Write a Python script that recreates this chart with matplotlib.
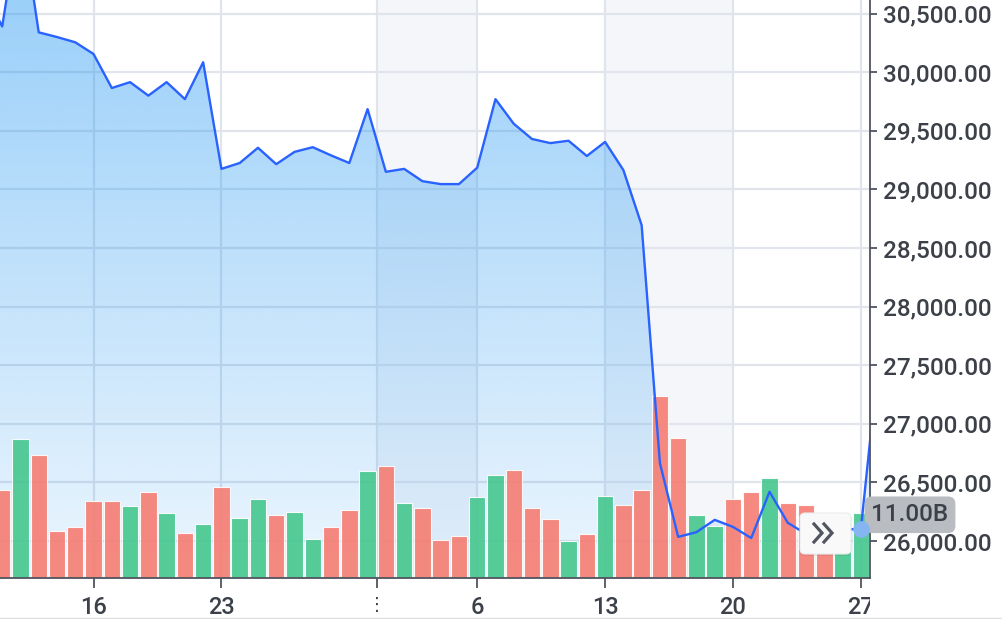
import numpy as np
import pandas as pd
import matplotlib.pyplot as plt
import matplotlib.dates as mdates
from matplotlib.patches import FancyBboxPatch, Rectangle
from matplotlib.lines import Line2D
from matplotlib.transforms import Affine2D, IdentityTransform, blended_transform_factory

plt.rcParams["font.family"] = ["Roboto", "DejaVu Sans"]
plt.rcParams["font.weight"] = "medium"

# daily closes, Jul 10 .. Aug 28 2023
price_dates = pd.date_range("2023-07-10", "2023-08-28", freq="D")
prices = [30700, 30390, 31380, 30340, 30300, 30255, 30155, 29865, 29915, 29800,
          29915, 29770, 30085, 29175, 29225, 29355, 29215, 29320, 29360, 29290,
          29225, 29685, 29150, 29175, 29070, 29045, 29045, 29185, 29770, 29560,
          29430, 29395, 29415, 29285, 29405, 29165, 28695, 26665, 26035, 26075,
          26180, 26120, 26025, 26420, 26155, 26060, 26080, 26100, 26100, 27600]

# volume in billions, Jul 11 .. Aug 27
vol_dates = pd.date_range("2023-07-11", "2023-08-27", freq="D")
volumes = [14.9, 23.5, 20.8, 8.0, 8.6, 13.0, 13.0, 12.2, 14.6, 11.0,
           7.6, 9.1, 15.4, 10.2, 13.4, 10.7, 11.2, 6.6, 8.6, 11.5,
           18.1, 19.0, 12.7, 11.8, 6.4, 7.1, 13.7, 17.4, 18.3, 11.8,
           10.0, 6.3, 7.4, 13.9, 12.4, 14.9, 30.8, 23.7, 10.7, 8.8,
           13.4, 14.6, 16.9, 12.7, 12.4, 9.8, 5.1, 11.0]
vol_side = list("rgrrrrrgrg" "rgrggrggrr" "grgrrrggrr" "rgrgrrrrgg" "rrgrrrgg")

tick_dates = ["2023-07-16", "2023-07-23", "2023-07-31 12:00", "2023-08-06",
              "2023-08-13", "2023-08-20", "2023-08-27"]
tick_labels = ["16", "23", "\u22ee", "6", "13", "20", "27"]
bands = [("2023-07-31 12:00", "2023-08-06"), ("2023-08-13", "2023-08-20")]

axis_col = "#50545e"
text_col = "#3c4048"

fig = plt.figure(figsize=(10.02, 6.19), dpi=100)
ax = fig.add_axes([0, 41 / 619, 870 / 1002, 578 / 619])

x0 = mdates.date2num(pd.Timestamp("2023-07-16")) - 5.12
x1 = mdates.date2num(pd.Timestamp("2023-07-16")) + 42.5
ymin, ymax = 25684, 30616
vol_top = 97.8

# background bands + grid
for a, b in bands:
    ax.axvspan(pd.Timestamp(a), pd.Timestamp(b), color="#f4f6fa", zorder=0.2, lw=0)
ax.set_axisbelow(True)
ax.grid(True, color="#e1e4ea", lw=1.6)

# gradient area under the price line
grad = np.zeros((256, 1, 4))
grad[:, 0, 0] = 33 / 255
grad[:, 0, 1] = 150 / 255
grad[:, 0, 2] = 243 / 255
grad[:, 0, 3] = np.linspace(0.45, 0.09, 256)
poly = ax.fill_between(price_dates, prices, ymin - 500, facecolor="none", lw=0)
im = ax.imshow(grad, extent=[0, 1, 0, 1], transform=ax.transAxes, aspect="auto",
               zorder=2, interpolation="bilinear")
im.set_clip_path(poly.get_paths()[0], transform=ax.transData)

# volume bars, scaled to their own range
vol_trans = blended_transform_factory(ax.transData,
                                      Affine2D().scale(1, 1 / vol_top) + ax.transAxes)
bar_cols = ["#45c78d" if s == "g" else "#f67d72" for s in vol_side]
ax.bar(vol_dates, volumes, width=0.9, color=bar_cols, alpha=0.9,
       edgecolor=(1, 1, 1, 0.45), lw=0.8, transform=vol_trans, zorder=3)

ax.plot(price_dates, prices, color="#2962ff", lw=1.7, zorder=5)

ax.set_xlim(x0, x1)
ax.set_ylim(ymin, ymax)

# axes styling
for s in ["top", "left"]:
    ax.spines[s].set_visible(False)
for s in ["right", "bottom"]:
    ax.spines[s].set_color(axis_col)
    ax.spines[s].set_linewidth(1.3)
    ax.spines[s].set_zorder(6)

ax.yaxis.tick_right()
ax.set_yticks(np.arange(26000, 30501, 500))
ax.yaxis.set_major_formatter(plt.FuncFormatter(lambda v, p: f"{v:,.2f}"))
ax.tick_params(axis="y", length=5, width=1.3, pad=4, labelsize=17.5,
               color=axis_col, labelcolor=text_col)

ax.set_xticks([pd.Timestamp(t) for t in tick_dates])
ax.set_xticklabels(tick_labels)
ax.tick_params(axis="x", length=7, width=1.3, pad=6, labelsize=17,
               color=axis_col, labelcolor=text_col)
clip_rect = Rectangle((0, 0), 870 / 1002, 1, transform=fig.transFigure)
for lbl in ax.get_xticklabels():
    lbl.set_clip_path(clip_rect)
    if lbl.get_text() == "\u22ee":
        lbl.set_fontsize(13)

# last value marker and label
ax.plot(price_dates[-2], prices[-2], "o", ms=11, color="#86b6f2",
        zorder=11, clip_on=False)
lab_trans = blended_transform_factory(ax.transAxes,
                                      Affine2D().scale(1, 1 / vol_top) + ax.transAxes)
ax.text(1.046, volumes[-1] - 0.3, f"{volumes[-1]:.2f}B", transform=lab_trans,
        ha="center", va="center", fontsize=17.5, color=text_col, zorder=10,
        bbox=dict(boxstyle="round,pad=0.28,rounding_size=0.3", fc="#b9bcc1", ec="none"))

# scroll button
shadow = FancyBboxPatch((799, 63), 53, 43, boxstyle="round,pad=0,rounding_size=6",
                        transform=IdentityTransform(), fc=(0, 0, 0, 0.06), ec="none", zorder=20)
btn = FancyBboxPatch((800, 65), 51, 41, boxstyle="round,pad=0,rounding_size=5",
                     transform=IdentityTransform(), fc="#f9f9f9", ec="#ececec", lw=0.8, zorder=21)
fig.add_artist(shadow)
fig.add_artist(btn)
for dx in (0, 10):
    fig.add_artist(Line2D([814 + dx, 822 + dx, 814 + dx], [95, 86, 77],
                          transform=IdentityTransform(), color="#50555f", lw=2.3,
                          solid_joinstyle="miter", zorder=22))

fig.add_artist(Line2D([0, 1002], [1.5, 1.5], transform=IdentityTransform(),
                      color="#dcdde1", lw=1))

plt.savefig("out.png", dpi=100)
